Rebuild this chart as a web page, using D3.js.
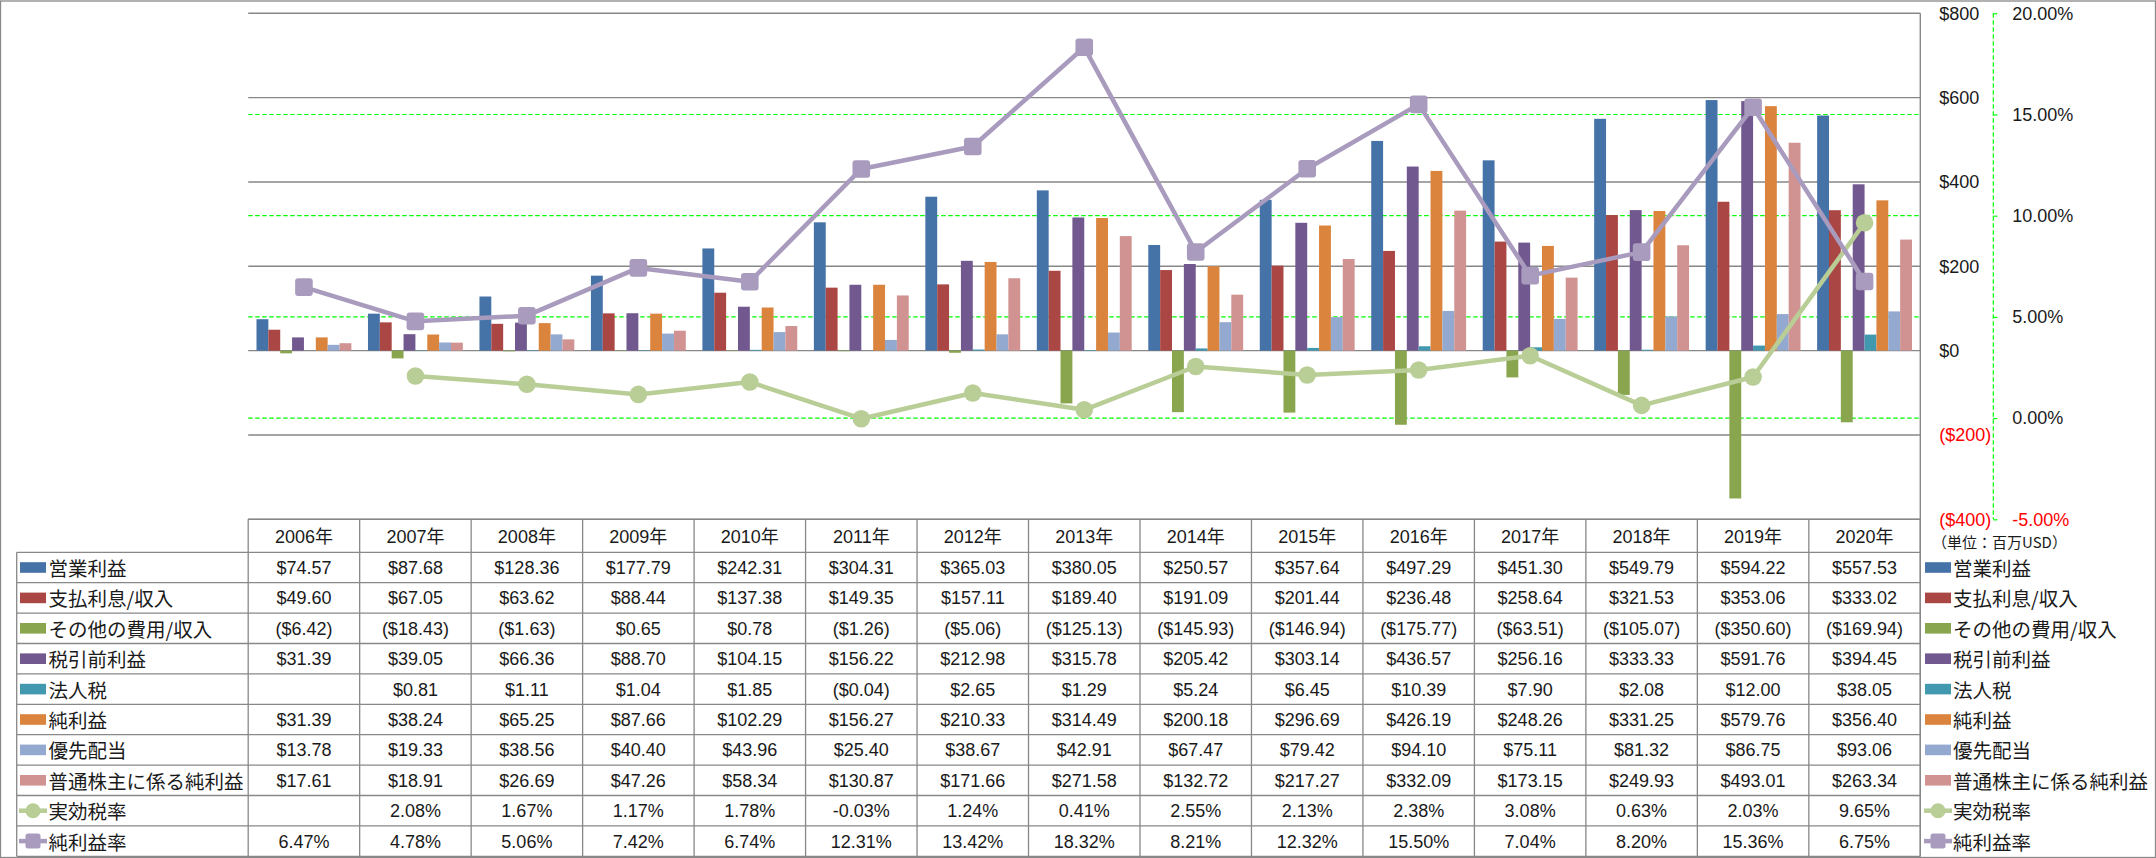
<!DOCTYPE html>
<html><head><meta charset="utf-8">
<script src="https://cdn.jsdelivr.net/npm/d3@7"></script>
<style>
html,body{margin:0;padding:0;background:#fff;}
svg{display:block;}
text{font-family:"Liberation Sans","Noto Sans CJK JP",sans-serif;}
.jp{font-family:"Noto Sans CJK JP","Liberation Sans",sans-serif;}
</style></head>
<body><svg id="c" width="2156" height="858"></svg>
<script>
const years = ["2006年","2007年","2008年","2009年","2010年","2011年","2012年","2013年","2014年","2015年","2016年","2017年","2018年","2019年","2020年"];
const operatingIncome = [74.57, 87.68, 128.36, 177.79, 242.31, 304.31, 365.03, 380.05, 250.57, 357.64, 497.29, 451.30, 549.79, 594.22, 557.53];
const interestExpense = [49.60, 67.05, 63.62, 88.44, 137.38, 149.35, 157.11, 189.40, 191.09, 201.44, 236.48, 258.64, 321.53, 353.06, 333.02];
const otherExpense = [-6.42, -18.43, -1.63, 0.65, 0.78, -1.26, -5.06, -125.13, -145.93, -146.94, -175.77, -63.51, -105.07, -350.60, -169.94];
const pretaxIncome = [31.39, 39.05, 66.36, 88.70, 104.15, 156.22, 212.98, 315.78, 205.42, 303.14, 436.57, 256.16, 333.33, 591.76, 394.45];
const incomeTax = [null, 0.81, 1.11, 1.04, 1.85, -0.04, 2.65, 1.29, 5.24, 6.45, 10.39, 7.90, 2.08, 12.00, 38.05];
const netIncome = [31.39, 38.24, 65.25, 87.66, 102.29, 156.27, 210.33, 314.49, 200.18, 296.69, 426.19, 248.26, 331.25, 579.76, 356.40];
const preferredDividends = [13.78, 19.33, 38.56, 40.40, 43.96, 25.40, 38.67, 42.91, 67.47, 79.42, 94.10, 75.11, 81.32, 86.75, 93.06];
const commonNetIncome = [17.61, 18.91, 26.69, 47.26, 58.34, 130.87, 171.66, 271.58, 132.72, 217.27, 332.09, 173.15, 249.93, 493.01, 263.34];
const effectiveTaxRate = [null, 2.08, 1.67, 1.17, 1.78, -0.03, 1.24, 0.41, 2.55, 2.13, 2.38, 3.08, 0.63, 2.03, 9.65];
const netMargin = [6.47, 4.78, 5.06, 7.42, 6.74, 12.31, 13.42, 18.32, 8.21, 12.32, 15.50, 7.04, 8.20, 15.36, 6.75];
const usdTicks = [-400, -200, 0, 200, 400, 600, 800];
const pctTicks = [-5, 0, 5, 10, 15, 20];
const unitLabel = "（単位：百万USD）";

const barSeries = [
  {name:"営業利益", values:operatingIncome, color:"#4572A7"},
  {name:"支払利息/収入", values:interestExpense, color:"#AA4643"},
  {name:"その他の費用/収入", values:otherExpense, color:"#89A54E"},
  {name:"税引前利益", values:pretaxIncome, color:"#71588F"},
  {name:"法人税", values:incomeTax, color:"#4198AF"},
  {name:"純利益", values:netIncome, color:"#DB843D"},
  {name:"優先配当", values:preferredDividends, color:"#93A9CF"},
  {name:"普通株主に係る純利益", values:commonNetIncome, color:"#D19392"}
];
const lineSeries = [
  {name:"実効税率", values:effectiveTaxRate, color:"#B9CD96", marker:"circle"},
  {name:"純利益率", values:netMargin, color:"#A99BBD", marker:"square"}
];

const svg = d3.select("#c");
const L = 248.2, R = 1920.3, T = 13.3, B = 519.3;
const x0 = d3.scaleBand().domain(years).range([L, R]);
const x1 = d3.scaleBand().domain(barSeries.map(s=>s.name)).range([0, x0.bandwidth()]).paddingInner(0).paddingOuter(0.7);
const y = d3.scaleLinear().domain([-400, 800]).range([B, T]);
const y2 = d3.scaleLinear().domain([-5, 20]).range([B, T]);

// outer border
svg.append("rect").attr("x",0.5).attr("y",1).attr("width",2155).attr("height",856.5)
  .attr("fill","none").attr("stroke","#888").attr("stroke-width",1.3);

// grey gridlines
svg.append("g").selectAll("line").data(usdTicks).join("line")
  .attr("x1",L).attr("x2",R).attr("y1",d=>y(d)).attr("y2",d=>y(d))
  .attr("stroke","#878787").attr("stroke-width",1.4);
// green dashed gridlines (secondary)
svg.append("g").selectAll("line").data(pctTicks.filter(d=>d>-5 && d<20)).join("line")
  .attr("x1",L).attr("x2",R).attr("y1",d=>y2(d)).attr("y2",d=>y2(d))
  .attr("stroke","#00FF00").attr("stroke-width",1.2).attr("stroke-dasharray","4.5,2.5");

// bars
const bars = svg.append("g");
barSeries.forEach(s=>{
  bars.append("g").selectAll("rect").data(years.map((yr,i)=>({yr, v:s.values[i]})).filter(d=>d.v!==null)).join("rect")
    .attr("x",d=>x0(d.yr)+x1(s.name)).attr("width",x1.bandwidth())
    .attr("y",d=>y(Math.max(0,d.v))).attr("height",d=>Math.abs(y(d.v)-y(0)))
    .attr("fill",s.color);
});

// right plot border / axis line
svg.append("line").attr("x1",R).attr("x2",R).attr("y1",T).attr("y2",856.5)
  .attr("stroke","#878787").attr("stroke-width",1.4);

// lines
lineSeries.forEach(s=>{
  const pts = years.map((yr,i)=>({yr, v:s.values[i]})).filter(d=>d.v!==null);
  const line = d3.line().x(d=>x0(d.yr)+x0.bandwidth()/2).y(d=>y2(d.v));
  svg.append("path").datum(pts).attr("d",line).attr("fill","none")
    .attr("stroke",s.color).attr("stroke-width",4.5).attr("stroke-linejoin","round");
  const g = svg.append("g");
  if (s.marker==="circle") {
    g.selectAll("circle").data(pts).join("circle")
      .attr("cx",d=>x0(d.yr)+x0.bandwidth()/2).attr("cy",d=>y2(d.v)).attr("r",8.8).attr("fill",s.color);
  } else {
    g.selectAll("rect").data(pts).join("rect")
      .attr("x",d=>x0(d.yr)+x0.bandwidth()/2-8.8).attr("y",d=>y2(d.v)-8.8)
      .attr("width",17.6).attr("height",17.6).attr("rx",3).attr("fill",s.color);
  }
});

// right $ axis
const fmtUsd = v => v<0 ? "($"+Math.abs(v)+")" : "$"+v;
const axUsd = svg.append("g").attr("transform",`translate(${R},0)`)
  .call(d3.axisRight(y).tickValues(usdTicks).tickSize(0).tickPadding(19).tickFormat(fmtUsd));
axUsd.select(".domain").remove();
axUsd.selectAll("text").attr("font-size",18).attr("font-family","Liberation Sans")
  .attr("fill",d=>d<0?"#FF0000":"#1a1a1a");

// secondary % axis
const axPct = svg.append("g").attr("transform","translate(1993.3,0)")
  .call(d3.axisRight(y2).tickValues(pctTicks).tickSize(4).tickPadding(15).tickFormat(d=>d.toFixed(2)+"%"));
axPct.select(".domain").attr("stroke","#00FF00").attr("stroke-width",1.2).attr("stroke-dasharray","4.5,2.5")
  .attr("d",`M0,${T}V${B}`);
axPct.selectAll(".tick line").attr("stroke","#00FF00").attr("stroke-width",1.2);
axPct.selectAll("text").attr("font-size",18).attr("font-family","Liberation Sans")
  .attr("fill",d=>d<0?"#FF0000":"#1a1a1a");

// unit label
svg.append("text").attr("class","jp").attr("x",1932).attr("y",541).attr("dominant-baseline","central")
  .attr("font-size",15).attr("fill","#1a1a1a").text(unitLabel);

// data table
const rowTop = 552.3, rowH = 30.4, hdrTop = 519.3;
const allRows = barSeries.map(s=>({...s, type:"bar"})).concat(lineSeries.map(s=>({...s, type:"line"})));
const tbl = svg.append("g");
const gridColor = "#888";
// header vertical lines + row label column
const colEdges = years.map(yr=>x0(yr)).concat([R]);
tbl.selectAll("line.v").data(colEdges).join("line").attr("class","v")
  .attr("x1",d=>d).attr("x2",d=>d).attr("y1",hdrTop).attr("y2",rowTop+rowH*allRows.length)
  .attr("stroke",gridColor).attr("stroke-width",1.3);
tbl.append("line").attr("x1",16.7).attr("x2",16.7).attr("y1",rowTop).attr("y2",rowTop+rowH*allRows.length)
  .attr("stroke",gridColor).attr("stroke-width",1.3);
tbl.append("line").attr("x1",L).attr("x2",R).attr("y1",hdrTop).attr("y2",hdrTop).attr("stroke",gridColor).attr("stroke-width",1.3);
tbl.selectAll("line.h").data(d3.range(allRows.length+1)).join("line").attr("class","h")
  .attr("x1",16.7).attr("x2",R).attr("y1",i=>rowTop+i*rowH).attr("y2",i=>rowTop+i*rowH)
  .attr("stroke",gridColor).attr("stroke-width",1.3);
// header texts
tbl.selectAll("text.hdr").data(years).join("text").attr("class","hdr")
  .attr("x",d=>x0(d)+x0.bandwidth()/2).attr("y",(hdrTop+rowTop)/2+1).attr("text-anchor","middle")
  .attr("dominant-baseline","central").attr("font-size",18).attr("fill","#1a1a1a").text(d=>d);

const fmtCell = (v,type) => v===null ? "" : (type==="line" ? v.toFixed(2)+"%" : (v<0 ? "($"+Math.abs(v).toFixed(2)+")" : "$"+v.toFixed(2)));

function legendKey(g, s, cx, cy) {
  if (s.type==="bar") {
    g.append("rect").attr("x",cx-13).attr("y",cy-5.3).attr("width",26).attr("height",10.6).attr("fill",s.color);
  } else {
    g.append("line").attr("x1",cx-14).attr("x2",cx+14).attr("y1",cy).attr("y2",cy).attr("stroke",s.color).attr("stroke-width",4.5);
    if (s.marker==="circle") g.append("circle").attr("cx",cx).attr("cy",cy).attr("r",7.5).attr("fill",s.color);
    else g.append("rect").attr("x",cx-7.5).attr("y",cy-7.5).attr("width",15).attr("height",15).attr("rx",2.5).attr("fill",s.color);
  }
}

allRows.forEach((s,ri)=>{
  const cy = rowTop + ri*rowH + rowH/2;
  const rg = tbl.append("g");
  rg.selectAll("text").data(years.map((yr,i)=>({yr, v:s.values[i]}))).join("text")
    .attr("x",d=>x0(d.yr)+x0.bandwidth()/2).attr("y",cy+0.5).attr("text-anchor","middle")
    .attr("dominant-baseline","central").attr("font-size",18).attr("fill","#1a1a1a")
    .text(d=>fmtCell(d.v, s.type));
  // left legend
  legendKey(rg, s, 33, cy);
  rg.append("text").attr("class","jp").attr("x",48.5).attr("y",cy).attr("dominant-baseline","central")
    .attr("font-size",19.5).attr("fill","#1a1a1a").text(s.name);
  // right legend
  legendKey(rg, s, 1938, cy);
  rg.append("text").attr("class","jp").attr("x",1953).attr("y",cy).attr("dominant-baseline","central")
    .attr("font-size",19.5).attr("fill","#1a1a1a").text(s.name);
});
</script>
</body></html>
